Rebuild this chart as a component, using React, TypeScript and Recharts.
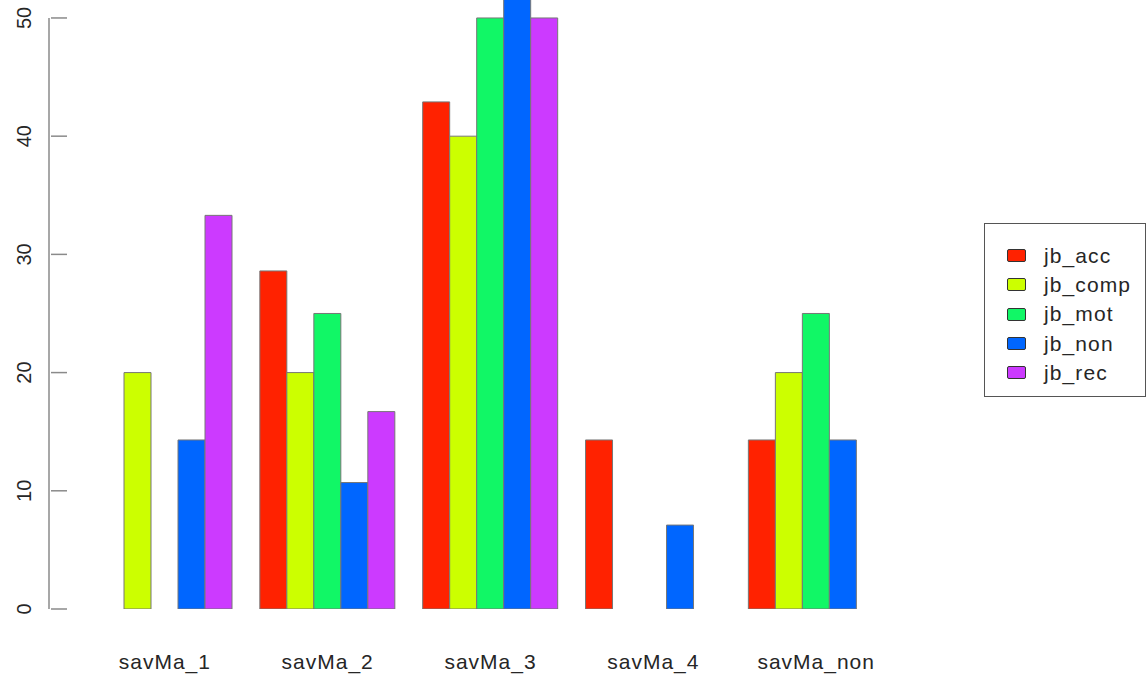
import React from "react";
import { BarChart, Bar, XAxis, YAxis, Legend } from "recharts";

const categories = ["savMa_1", "savMa_2", "savMa_3", "savMa_4", "savMa_non"];
const jbAcc = [0, 28.6, 42.9, 14.3, 14.3];
const jbComp = [20, 20, 40, 0, 20];
const jbMot = [0, 25, 50, 0, 25];
const jbNon = [14.3, 10.7, 53.6, 7.1, 14.3];
const jbRec = [33.3, 16.7, 50, 0, 0];
const yTicks = [0, 10, 20, 30, 40, 50];

const series = [
  { key: "jb_acc", values: jbAcc, color: "#ff2200" },
  { key: "jb_comp", values: jbComp, color: "#ccff00" },
  { key: "jb_mot", values: jbMot, color: "#11f766" },
  { key: "jb_non", values: jbNon, color: "#0066ff" },
  { key: "jb_rec", values: jbRec, color: "#cc3aff" },
];

const data = categories.map((cat, i) => {
  const row: Record<string, string | number> = { cat };
  series.forEach((s) => (row[s.key] = s.values[i]));
  return row;
});

const W = 1147;
const H = 679;
const PLOT_BOTTOM = 609;
const TEXT = "#262626";
const LINE = "#8a8a8a";
const FONT = "'Liberation Sans', Arial, sans-serif";

function YTick(props: any) {
  const { x, y, payload } = props;
  return (
    <g>
      {payload.value === 50 && (
        <line x1={x} y1={y} x2={x} y2={PLOT_BOTTOM} stroke={LINE} strokeWidth={1.5} />
      )}
      <text
        x={24}
        y={y}
        transform={`rotate(-90, 24, ${y})`}
        textAnchor="middle"
        dominantBaseline="central"
        fontSize={20}
        fill={TEXT}
        fontFamily={FONT}
      >
        {payload.value}
      </text>
    </g>
  );
}

function XTick(props: any) {
  const { x, y, payload } = props;
  return (
    <text
      x={x}
      y={y + 60}
      textAnchor="middle"
      fontSize={21}
      letterSpacing={1}
      fill={TEXT}
      fontFamily={FONT}
    >
      {payload.value}
    </text>
  );
}

function LegendBox(props: any) {
  const items = props.payload || [];
  return (
    <div
      style={{
        border: "1.5px solid #555",
        width: 162,
        height: 174,
        boxSizing: "border-box",
        background: "#fff",
        paddingTop: 17,
        fontFamily: FONT,
      }}
    >
      {items.map((it: any) => (
        <div
          key={it.value}
          style={{ display: "flex", alignItems: "center", height: 29.3 }}
        >
          <span
            style={{
              display: "inline-block",
              width: 17,
              height: 11,
              marginLeft: 22,
              marginRight: 18,
              background: it.color,
              border: "1.5px solid #333",
              borderRadius: 2,
            }}
          />
          <span style={{ fontSize: 21, color: TEXT, letterSpacing: 1.1 }}>{it.value}</span>
        </div>
      ))}
    </div>
  );
}

export default function App() {
  return (
    <div style={{ position: "absolute", left: 0, top: 0, width: W, height: H, background: "#fff" }}>
      <BarChart
        width={W}
        height={H}
        data={data}
        margin={{ top: 0, right: 249.4, bottom: 0, left: 0 }}
        barCategoryGap={13.6}
        barGap={0}
      >
        <XAxis
          dataKey="cat"
          axisLine={false}
          tickLine={false}
          tickSize={0}
          tickMargin={0}
          height={H - PLOT_BOTTOM}
          padding={{ left: 16.4, right: 0 }}
          tick={<XTick />}
          interval={0}
        />
        <YAxis
          domain={[0, 51.52]}
          allowDataOverflow
          ticks={yTicks}
          width={67}
          axisLine={false}
          tickLine={{ stroke: LINE, strokeWidth: 1.5 }}
          tickSize={16}
          tick={<YTick />}
        />
        <Legend
          layout="vertical"
          align="center"
          verticalAlign="middle"
          content={<LegendBox />}
          wrapperStyle={{ left: 984, top: 223, width: 163 }}
        />
        {series.map((s) => (
          <Bar
            key={s.key}
            dataKey={s.key}
            name={s.key}
            fill={s.color}
            stroke="#777"
            strokeWidth={1}
            isAnimationActive={false}
          />
        ))}
      </BarChart>
    </div>
  );
}
